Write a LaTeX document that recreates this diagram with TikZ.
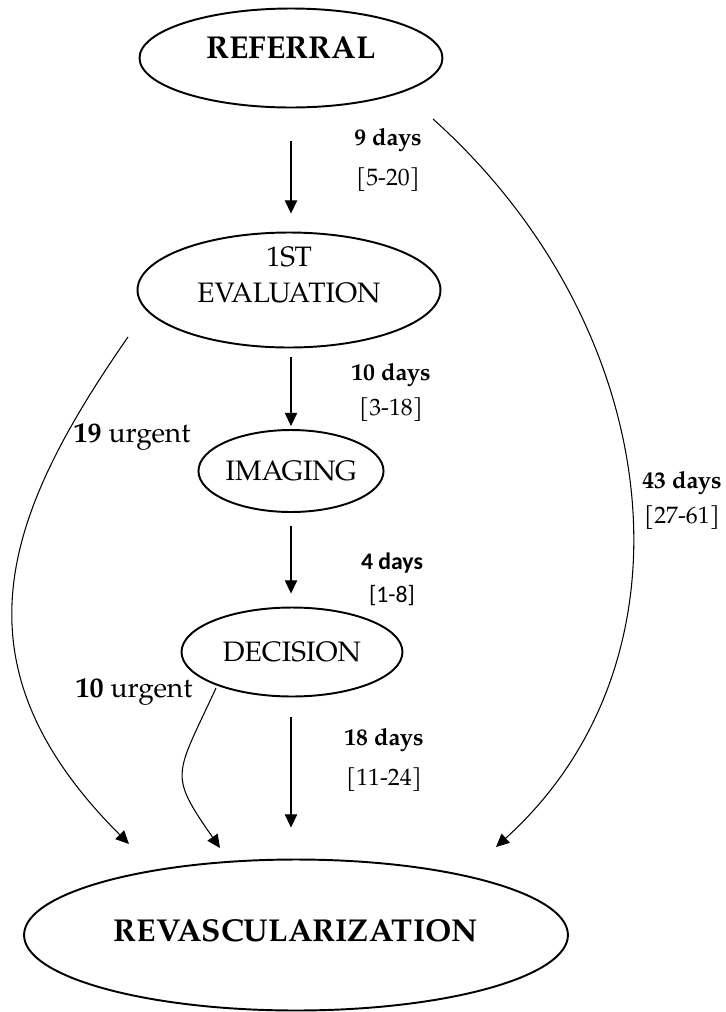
\documentclass[tikz,border=0pt]{standalone}
\usepackage{fontspec}
\setmainfont{texgyrepagella}[Extension=.otf,UprightFont=*-regular,BoldFont=*-bold,ItalicFont=*-italic,BoldItalicFont=*-bolditalic]
\newfontfamily\calibfont{Carlito}
\usetikzlibrary{arrows.meta,calc,shapes.geometric}

\begin{document}
\begin{tikzpicture}[x=0.02cm,y=-0.02cm,
    stage/.style={draw,ellipse,line width=1.1pt,inner sep=0pt,align=center,font=\fontsize{16}{21}\selectfont},
    arr/.style={-{Triangle[length=7.5pt,width=7pt]},line width=0.6pt},
    lbl/.style={align=center,font=\fontsize{13.5}{16}\selectfont}
  ]
    \useasboundingbox (0,0) rectangle (725,1012);
    % stages
    \node[stage,minimum width=6.06cm,minimum height=1.98cm,text depth=12pt,font=\fontsize{18}{20}\selectfont\bfseries] (ref) at (291,58) {REFERRAL};
    \node[stage,minimum width=6.06cm,minimum height=2.3cm] (eval) at (289,290) {\raisebox{3pt}[0pt][0pt]{\begin{tabular}{@{}c@{}}1ST\\EVALUATION\end{tabular}}};
    \node[stage,minimum width=3.34cm,minimum height=1.64cm] (img) at (291,471) {IMAGING};
    \node[stage,minimum width=4.42cm,minimum height=1.78cm] (dec) at (292,652) {DECISION};
    \node[stage,minimum width=10.88cm,minimum height=3.02cm,text depth=5pt,font=\fontsize{18}{20}\selectfont\bfseries] (rev) at (296,935) {REVASCULARIZATION};
    % delays
    \node[lbl] (t1) at (388,160) {\textbf{9 days}\\[6.5pt]{[5-20]}};
    \node[lbl] (t2) at (391,392) {\textbf{10 days}\\[4pt]{[3-18]}};
    \node[lbl,font=\calibfont\fontsize{13.5}{16}\selectfont] (t3) at (392,579) {\textbf{4 days}\\[3pt]{[1-8]}};
    \node[lbl] (t4) at (384,760) {\textbf{18 days}\\[6.5pt]{[11-24]}};
    \node[lbl] (t5) at (682,500) {\textbf{43 days}\\[4pt]{[27-61]}};
    \node[lbl,font=\fontsize{16}{18}\selectfont] (u1) at (132,437) {\textbf{19} urgent};
    \node[lbl,font=\fontsize{16}{18}\selectfont] (u2) at (134,692) {\textbf{10} urgent};
    % main path
    \draw[arr,shorten <=0.66cm,shorten >=0.36cm] (ref) -- (ref |- eval.north);
    \draw[arr,shorten <=0.18cm,shorten >=0.06cm] (img |- eval.south) -- (img);
    \draw[arr,shorten <=0.26cm,shorten >=0.26cm] (img) -- (img |- dec.north);
    \draw[arr,shorten <=0.4cm,shorten >=0.62cm] (img |- dec.south) -- (img |- rev.north);
    % side paths
    \coordinate (s1) at (128,337);
    \coordinate (e1) at (129,844);
    \coordinate (s2) at (216,688);
    \coordinate (e2) at (220,848);
    \coordinate (s3) at (433,119);
    \coordinate (e3) at (496,847);
    \draw[arr] (s1) .. controls (3,517) and (-51,664) .. (e1);
    \draw[arr] (s2) .. controls (175,777) and (168,773) .. (e2);
    \draw[arr] (s3) .. controls (665,327) and (705,658) .. (e3);
  \end{tikzpicture}
\end{document}
